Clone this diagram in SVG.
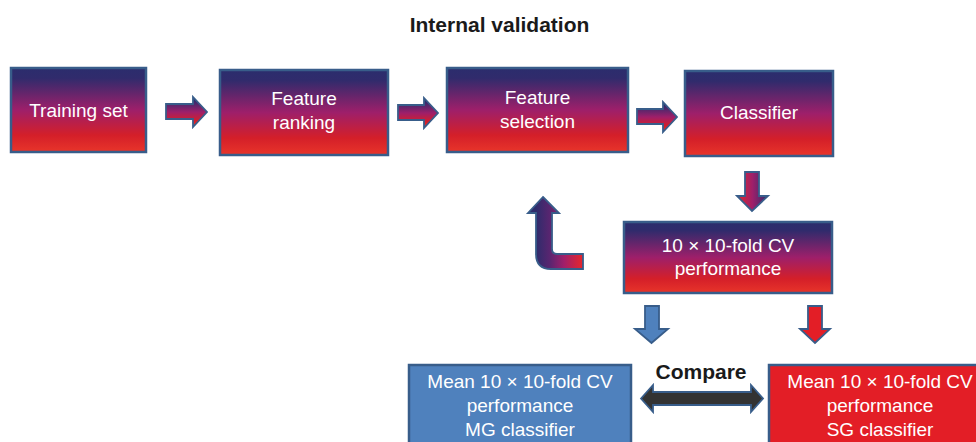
<svg xmlns="http://www.w3.org/2000/svg" width="976" height="442" viewBox="0 0 976 442">
  <defs>
    <linearGradient id="gv" x1="0" y1="0" x2="0" y2="1">
      <stop offset="0" stop-color="#2b2d6d"/>
      <stop offset="0.12" stop-color="#302b6c"/>
      <stop offset="0.5" stop-color="#9e1f6a"/>
      <stop offset="0.8" stop-color="#d41f29"/>
      <stop offset="1" stop-color="#e8352a"/>
    </linearGradient>
    <linearGradient id="gd" x1="1" y1="0" x2="0" y2="0">
      <stop offset="0" stop-color="#2b2d6d"/>
      <stop offset="0.5" stop-color="#9e1f6a"/>
      <stop offset="1" stop-color="#e0272a"/>
    </linearGradient>
    <linearGradient id="gu" x1="536" y1="0" x2="583" y2="0" gradientUnits="userSpaceOnUse">
      <stop offset="0" stop-color="#2e2c6c"/>
      <stop offset="0.3" stop-color="#5a2570"/>
      <stop offset="0.6" stop-color="#a11f6a"/>
      <stop offset="1" stop-color="#e8262a"/>
    </linearGradient>
    <style>
      .box { fill: url(#gv); stroke: #385d8a; stroke-width: 2.5; }
      .blue { fill: #4f81bd; stroke: #385d8a; stroke-width: 2.5; }
      .red { fill: #e31e26; stroke: #385d8a; stroke-width: 2.5; }
      .t { font-family: "Liberation Sans", Arial, sans-serif; font-size: 19px; fill: #ffffff; text-anchor: middle; }
      .h { font-family: "Liberation Sans", Arial, sans-serif; font-size: 21px; font-weight: bold; fill: #1a1a1a; text-anchor: middle; }
      .ar { stroke: #385d8a; stroke-width: 1.8; stroke-linejoin: miter; }
    </style>
  </defs>

  <text class="h" x="499.5" y="32">Internal validation</text>

  <g id="training-set">
    <rect class="box" x="11" y="68" width="135" height="84"/>
    <text class="t" x="78.5" y="117">Training set</text>
  </g>
  <g id="feature-ranking">
    <rect class="box" x="220" y="70" width="168" height="85"/>
    <text class="t" x="304" y="105">Feature</text>
    <text class="t" x="304" y="129">ranking</text>
  </g>
  <g id="feature-selection">
    <rect class="box" x="447" y="68" width="181" height="84"/>
    <text class="t" x="537.5" y="104">Feature</text>
    <text class="t" x="537.5" y="128">selection</text>
  </g>
  <g id="classifier">
    <rect class="box" x="685" y="71" width="148" height="85"/>
    <text class="t" x="759" y="119">Classifier</text>
  </g>
  <g id="cv-performance">
    <rect class="box" x="624" y="222" width="208" height="71"/>
    <text class="t" x="728" y="252">10 × 10-fold CV</text>
    <text class="t" x="728" y="275">performance</text>
  </g>
  <g id="mg-classifier">
    <rect class="blue" x="409" y="365" width="222" height="90"/>
    <text class="t" x="520" y="388">Mean 10 × 10-fold CV</text>
    <text class="t" x="520" y="412">performance</text>
    <text class="t" x="520" y="436">MG classifier</text>
  </g>
  <g id="sg-classifier">
    <rect class="red" x="769" y="365" width="222" height="90"/>
    <text class="t" x="880" y="388">Mean 10 × 10-fold CV</text>
    <text class="t" x="880" y="412">performance</text>
    <text class="t" x="880" y="436">SG classifier</text>
  </g>

  <g id="connectors">
    <path class="ar" fill="url(#gv)" d="M166,104 L193,104 L193,97 L207,112 L193,127 L193,119 L166,119 Z"/>
    <path class="ar" fill="url(#gv)" d="M398,105 L424,105 L424,98 L438,113 L424,128 L424,120 L398,120 Z"/>
    <path class="ar" fill="url(#gv)" d="M637,109 L663,109 L663,102 L677,117 L663,132 L663,124 L637,124 Z"/>
    <path class="ar" fill="url(#gd)" d="M745,172 L759,172 L759,196 L768,196 L752,211 L737,196 L745,196 Z"/>
    <path class="ar" fill="url(#gu)" d="M543,197 L559,213 L552,213 L552,249 Q552,254 557,254 L583,254 L583,269 L551,269 Q536,269 536,254 L536,213 L528,213 Z"/>
    <path class="ar" fill="#4f81bd" d="M645,306 L659,306 L659,329 L668,329 L651.5,343 L635,329 L645,329 Z"/>
    <path class="ar" fill="#e31e26" d="M808,306 L822,306 L822,329 L830,329 L815,343 L800,329 L808,329 Z"/>
    <path class="ar" fill="#333333" d="M641,398.5 L653,385 L653,392 L751,392 L751,385 L763,398.5 L751,412 L751,405 L653,405 L653,412 Z"/>
    <text class="h" x="701" y="379">Compare</text>
  </g>
</svg>
